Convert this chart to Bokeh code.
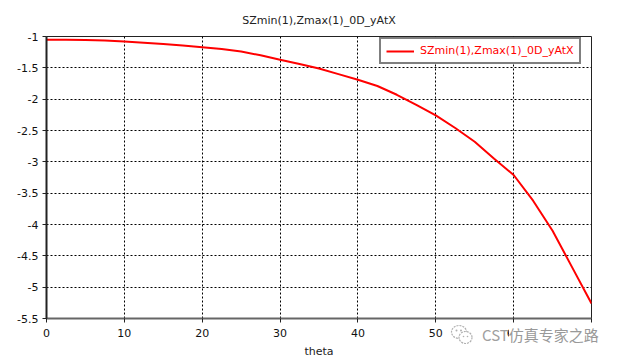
from bokeh.plotting import figure
from bokeh.models import FixedTicker, Legend, LegendItem, Range1d, Div
from bokeh.layouts import column
from bokeh.embed import file_html
from bokeh.resources import INLINE

theta = [0, 2.5, 5, 7.5, 10, 12.5, 15, 17.5, 20, 22.5, 25, 27.5, 30, 32.5, 35,
         37.5, 40, 42.5, 45, 47.5, 50, 52.5, 55, 57.5, 60, 62.5, 65, 67.5, 70]
yvals = [-1.05, -1.05, -1.055, -1.065, -1.08, -1.10, -1.12, -1.145, -1.17, -1.20,
         -1.24, -1.30, -1.37, -1.44, -1.51, -1.60, -1.69, -1.79, -1.93, -2.09,
         -2.26, -2.46, -2.68, -2.95, -3.21, -3.62, -4.10, -4.68, -5.26]
xticks = [0, 10, 20, 30, 40, 50, 60, 70]
yticks = [-1, -1.5, -2, -2.5, -3, -3.5, -4, -4.5, -5, -5.5]
ylabels = ["-1", "-1.5", "-2", "-2.5", "-3", "-3.5", "-4", "-4.5", "-5", "-5.5"]
title_text = "SZmin(1),Zmax(1)_0D_yAtX"
series_name = "SZmin(1),Zmax(1)_0D_yAtX"
xlabel = "theta"
watermark_latin = "CST"
watermark_cjk = "仿真专家之路"

FONT = "DejaVu Sans"
FS = "11px"

p = figure(width=611, height=360, output_backend="svg", toolbar_location=None,
           x_range=Range1d(0, 70), y_range=Range1d(-5.5, -1),
           min_border_left=46, min_border_right=20, min_border_top=36, min_border_bottom=41)
p.background_fill_color = "white"
p.border_fill_color = "white"
p.outline_line_color = "#222222"
p.outline_line_width = 1

p.title.text = title_text
p.title.align = "center"
p.title.vertical_align = "top"
p.title.standoff = 16
p.title.text_font = FONT
p.title.text_font_size = FS
p.title.text_font_style = "normal"
p.title.text_color = "#222222"

r = p.line(theta, yvals, line_color="red", line_width=2)

p.xaxis.ticker = FixedTicker(ticks=xticks)
p.yaxis.ticker = FixedTicker(ticks=yticks)
p.yaxis.major_label_overrides = {t: l for t, l in zip(yticks, ylabels)}
p.xaxis.axis_label = xlabel
for ax in (p.xaxis[0], p.yaxis[0]):
    ax.major_label_text_font = FONT
    ax.major_label_text_font_size = FS
    ax.major_label_text_color = "#111111"
    ax.axis_label_text_font = FONT
    ax.axis_label_text_font_size = FS
    ax.axis_label_text_font_style = "normal"
    ax.axis_label_text_color = "#222222"
    ax.minor_tick_line_color = None
    ax.major_tick_in = 0
    ax.major_tick_out = 4
    ax.major_tick_line_color = "#222222"
    ax.major_label_standoff = 4
p.xaxis.major_label_standoff = 6
p.xaxis.axis_line_color = "#666666"
p.xaxis.axis_line_width = 2
p.yaxis.axis_line_color = "#222222"
p.yaxis.axis_line_width = 2
p.xaxis.axis_label_standoff = 5

p.grid.grid_line_color = "black"
p.grid.grid_line_dash = "2 2"
p.grid.grid_line_width = 1

legend = Legend(items=[LegendItem(label=series_name, renderers=[r])],
                location=(333, 254))
legend.border_line_color = "black"
legend.border_line_width = 2
legend.background_fill_color = "white"
legend.background_fill_alpha = 1
legend.label_text_color = "red"
legend.label_text_font = FONT
legend.label_text_font_size = FS
legend.padding = 5
legend.glyph_width = 28
legend.glyph_height = 12
legend.label_height = 12
legend.label_standoff = 6
legend.spacing = 0
legend.margin = 0
p.add_layout(legend, "center")

icon = ('<svg width="24" height="22" viewBox="0 0 24 22" style="vertical-align:middle">'
        '<ellipse cx="9" cy="8" rx="7.5" ry="6.5" fill="white" stroke="#b0b0b0" stroke-width="1.2" stroke-dasharray="2 1"/>'
        '<ellipse cx="15.5" cy="13.5" rx="6.5" ry="6" fill="white" stroke="#b0b0b0" stroke-width="1.2" stroke-dasharray="2 1"/>'
        '<circle cx="6.5" cy="6.5" r="1" fill="#b0b0b0"/><circle cx="11" cy="6.5" r="1" fill="#b0b0b0"/>'
        '<circle cx="13.5" cy="12.5" r="0.8" fill="#b0b0b0"/><circle cx="17.5" cy="12.5" r="0.8" fill="#b0b0b0"/>'
        '</svg>')
html = (icon
        + '<span style="margin-left:8px;vertical-align:middle;color:#a0a0a0">' + watermark_latin + '</span>'
        + '<span style="vertical-align:middle;background:white;padding-right:4px">' + watermark_cjk + '</span>')
div = Div(text=html, width=170, height=22, margin=(-37, 0, 0, 450),
          styles={"font-family": "Noto Sans CJK SC", "font-size": "15px", "color": "#999999",
                  "white-space": "nowrap", "line-height": "20px"})

layout = column(p, div, spacing=0)
open("out.html", "w").write(file_html(layout, INLINE))
